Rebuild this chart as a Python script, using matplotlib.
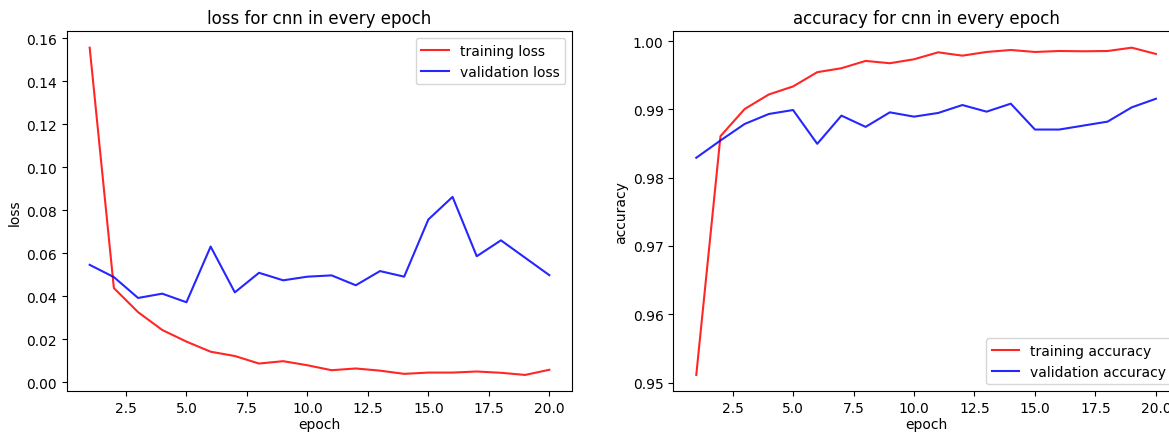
import numpy as np
import matplotlib
matplotlib.use("Agg")
import matplotlib.pyplot as plt

epochs = np.arange(1, 21)

train_loss = [0.1557, 0.0439, 0.0327, 0.0244, 0.0190, 0.0143, 0.0123, 0.0088, 0.0099, 0.0080,
              0.0057, 0.0065, 0.0055, 0.0040, 0.0046, 0.0046, 0.0051, 0.0045, 0.0035, 0.0059]
val_loss = [0.0547, 0.0490, 0.0393, 0.0413, 0.0373, 0.0632, 0.0419, 0.0510, 0.0475, 0.0492,
            0.0498, 0.0452, 0.0518, 0.0492, 0.0758, 0.0863, 0.0587, 0.0661, 0.0580, 0.0499]

train_acc = [0.95111, 0.98607, 0.99005, 0.99218, 0.99335, 0.99544, 0.99602, 0.99709, 0.99675, 0.99733,
             0.99835, 0.99786, 0.99840, 0.99869, 0.99840, 0.99854, 0.99850, 0.99854, 0.99903, 0.99811]
val_acc = [0.98291, 0.98544, 0.98786, 0.98932, 0.98990, 0.98495, 0.98908, 0.98743, 0.98956, 0.98893,
           0.98947, 0.99063, 0.98966, 0.99083, 0.98704, 0.98704, 0.98762, 0.98820, 0.99029, 0.99155]

W, H = 1169, 435
fig = plt.figure(figsize=(W / 100, H / 100), dpi=100)

# axes boxes measured in pixels from the reference
ax1 = fig.add_axes([66.7 / W, 1 - 392.3 / H, 505.6 / W, 360 / H])
ax2 = fig.add_axes([673.3 / W, 1 - 392.3 / H, 505.6 / W, 360 / H])

ax1.plot(epochs, train_loss, color='r', alpha=0.85, label='training loss')
ax1.plot(epochs, val_loss, color='b', alpha=0.85, label='validation loss')
ax1.set_title('loss for cnn in every epoch')
ax1.set_xlabel('epoch', labelpad=1.5)
ax1.set_ylabel('loss', labelpad=3)
ax1.legend(loc='upper right')

ax2.plot(epochs, train_acc, color='r', alpha=0.85, label='training accuracy')
ax2.plot(epochs, val_acc, color='b', alpha=0.85, label='validation accuracy')
ax2.set_title('accuracy for cnn in every epoch')
ax2.set_xlabel('epoch', labelpad=1.5)
ax2.set_ylabel('accuracy', labelpad=3)
ax2.legend(loc='lower right')

fig.savefig('out.png', dpi=100)
